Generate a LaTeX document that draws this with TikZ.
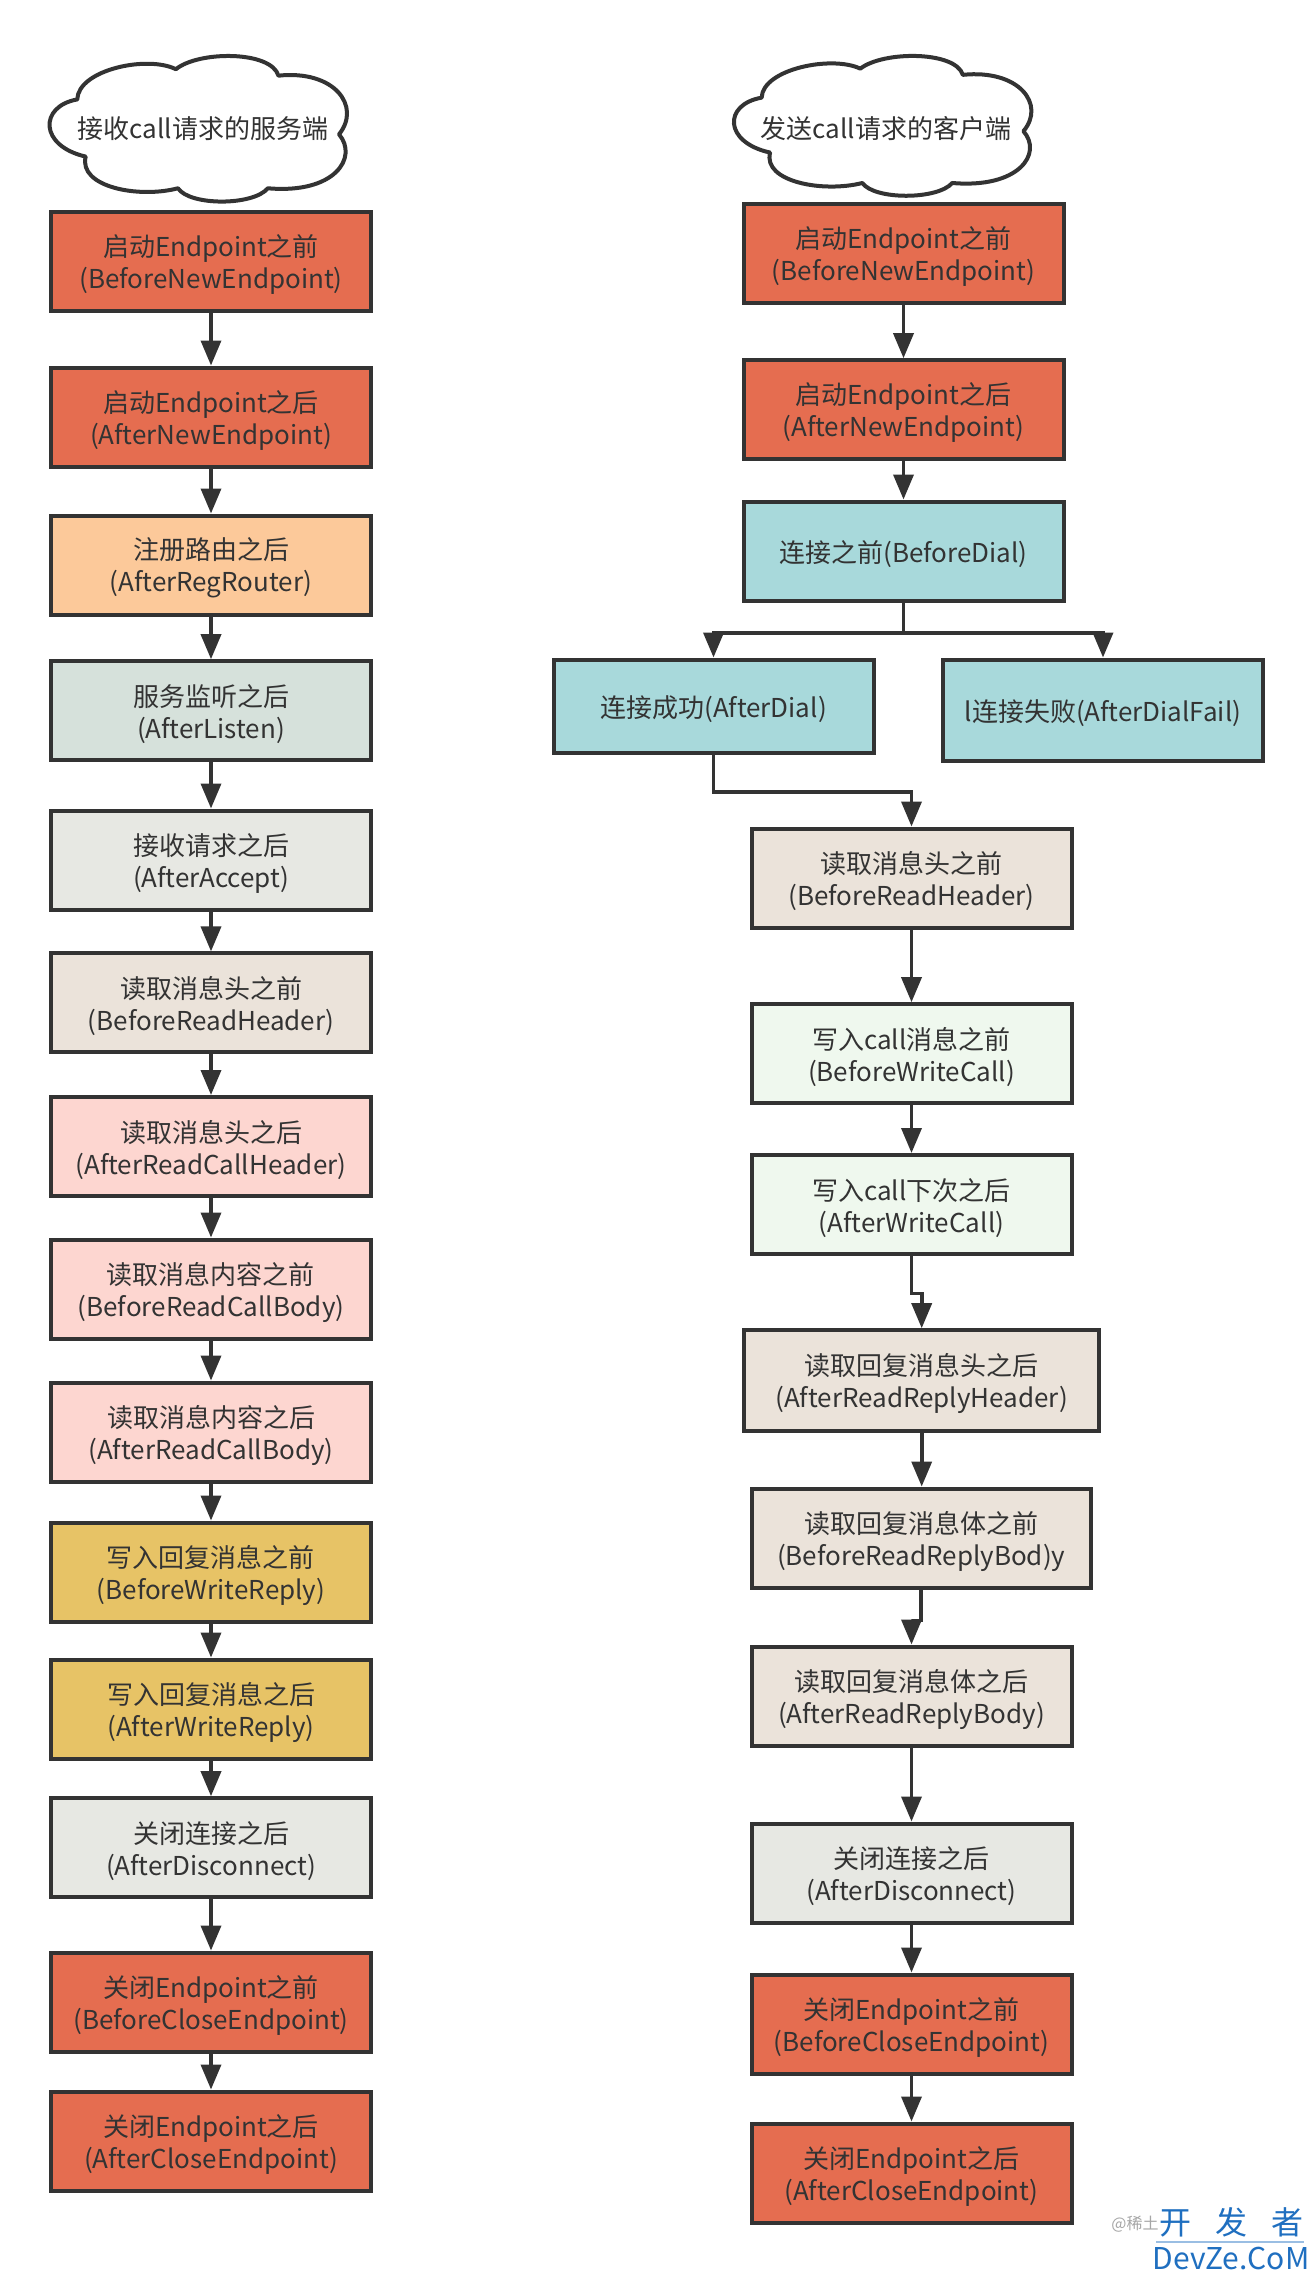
\documentclass[tikz,border=0pt]{standalone}
\usepackage{fontspec}
\setmainfont{Noto Sans CJK SC}
\usetikzlibrary{arrows.meta}
\definecolor{ink}{HTML}{333333}
\definecolor{cRed}{HTML}{E56D50}
\definecolor{cOrange}{HTML}{FCC99A}
\definecolor{cSage}{HTML}{D6E1DB}
\definecolor{cGray}{HTML}{E7E8E3}
\definecolor{cBeige}{HTML}{EBE3DA}
\definecolor{cPink}{HTML}{FDD6D0}
\definecolor{cGold}{HTML}{E7C366}
\definecolor{cTeal}{HTML}{A8D9DB}
\definecolor{cMint}{HTML}{EFF8EE}
\definecolor{wmBlue}{HTML}{1F6FC0}
\newcommand\mycloud[4]{%
  \begin{scope}[shift={(#1,#2)},xscale=#3,yscale=#4]
    \draw[cloudline] (0.097,0.303)
      .. controls (0.10,0.10) and (0.33,0.00) .. (0.424,0.097)
      .. controls (0.50,-0.03) and (0.74,-0.03) .. (0.764,0.141)
      .. controls (0.95,0.10) and (1.04,0.35) .. (0.965,0.541)
      .. controls (1.03,0.70) and (0.95,0.95) .. (0.729,0.909)
      .. controls (0.68,1.03) and (0.47,1.03) .. (0.431,0.909)
      .. controls (0.30,0.98) and (0.10,0.90) .. (0.125,0.693)
      .. controls (-0.03,0.62) and (-0.03,0.35) .. (0.097,0.303) -- cycle;
  \end{scope}}
\newcommand\tl[2]{\rule{0pt}{14.1pt}#1\\#2}
\begin{document}
\begin{tikzpicture}[x=0.5pt,y=-0.5pt,
  every node/.style={text=ink,font=\fontsize{13pt}{16pt}\selectfont},
  box/.style={draw=ink,line width=2pt,rectangle,minimum width=160pt,minimum height=49.5pt,inner sep=0pt,align=center},
  onel/.style={execute at begin node={\rule{0pt}{14.2pt}}},
  flow/.style={draw=ink,line width=1.8pt,-{Triangle[length=12.5pt,width=10pt]}},
  cloudline/.style={draw=ink,line width=2pt,fill=white,line join=round}
]
\fill[white] (0,0) rectangle (1314,2275);
\useasboundingbox (0,0) rectangle (1314,2275);

% clouds
\mycloud{48}{55}{301.6}{146.6}
\node (c1) at (203,128.5) {接收call请求的服务端};
\mycloud{732.4}{55}{301.6}{140.8}
\node (c2) at (886,128.5) {发送call请求的客户端};

% left column
\node[box,fill=cRed]    (L1)  at (211,261)    {\tl{启动Endpoint之前}{(BeforeNewEndpoint)}};
\node[box,fill=cRed]    (L2)  at (211,417)    {\tl{启动Endpoint之后}{(AfterNewEndpoint)}};
\node[box,fill=cOrange] (L3)  at (211,565)    {\tl{注册路由之后}{(AfterRegRouter)}};
\node[box,fill=cSage]   (L4)  at (211,710.7)  {\tl{服务监听之后}{(AfterListen)}};
\node[box,fill=cGray]   (L5)  at (211,860)    {\tl{接收请求之后}{(AfterAccept)}};
\node[box,fill=cBeige]  (L6)  at (211,1002.9) {\tl{读取消息头之前}{(BeforeReadHeader)}};
\node[box,fill=cPink]   (L7)  at (211,1146.5) {\tl{读取消息头之后}{(AfterReadCallHeader)}};
\node[box,fill=cPink]   (L8)  at (211,1289)   {\tl{读取消息内容之前}{(BeforeReadCallBody)}};
\node[box,fill=cPink]   (L9)  at (211,1432)   {\tl{读取消息内容之后}{(AfterReadCallBody)}};
\node[box,fill=cGold]   (L10) at (211,1572)   {\tl{写入回复消息之前}{(BeforeWriteReply)}};
\node[box,fill=cGold]   (L11) at (211,1709)   {\tl{写入回复消息之后}{(AfterWriteReply)}};
\node[box,fill=cGray]   (L12) at (211,1847.7) {\tl{关闭连接之后}{(AfterDisconnect)}};
\node[box,fill=cRed]    (L13) at (211,2002)   {\tl{关闭Endpoint之前}{(BeforeCloseEndpoint)}};
\node[box,fill=cRed]    (L14) at (211,2141)   {\tl{关闭Endpoint之后}{(AfterCloseEndpoint)}};

\foreach \a/\b in {L1/L2,L2/L3,L3/L4,L4/L5,L5/L6,L6/L7,L7/L8,L8/L9,L9/L10,L10/L11,L11/L12,L12/L13,L13/L14}
  \draw[flow] (\a.south) -- (\b.north);

% right column
\node[box,fill=cRed]   (R1)  at (903.5,253)   {\tl{启动Endpoint之前}{(BeforeNewEndpoint)}};
\node[box,fill=cRed]   (R2)  at (903.5,409.7) {\tl{启动Endpoint之后}{(AfterNewEndpoint)}};
\node[box,onel,fill=cTeal]  (R3)  at (903.5,551)   {连接之前(BeforeDial)};
\node[box,onel,fill=cTeal,minimum height=46.5pt] (R4) at (713.5,706) {连接成功(AfterDial)};
\node[box,onel,fill=cTeal,minimum height=50.5pt] (R5) at (1103,710) {l连接失败(AfterDialFail)};
\node[box,fill=cBeige] (R6)  at (911.5,878)    {\tl{读取消息头之前}{(BeforeReadHeader)}};
\node[box,fill=cMint]  (R7)  at (911.5,1053.7) {\tl{写入call消息之前}{(BeforeWriteCall)}};
\node[box,fill=cMint]  (R8)  at (911.5,1204.5) {\tl{写入call下次之后}{(AfterWriteCall)}};
\node[box,fill=cBeige,minimum width=177.5pt,minimum height=50.5pt] (R9) at (921.7,1380.7) {\tl{读取回复消息头之后}{(AfterReadReplyHeader)}};
\node[box,fill=cBeige,minimum width=169.7pt] (R10) at (921.2,1538) {\tl{读取回复消息体之前}{(BeforeReadReplyBod)y}};
\node[box,fill=cBeige] (R11) at (911.5,1696) {\tl{读取回复消息体之后}{(AfterReadReplyBody)}};
\node[box,fill=cGray]  (R12) at (911.5,1873) {\tl{关闭连接之后}{(AfterDisconnect)}};
\node[box,fill=cRed]   (R13) at (911.5,2024) {\tl{关闭Endpoint之前}{(BeforeCloseEndpoint)}};
\node[box,fill=cRed]   (R14) at (911.5,2173) {\tl{关闭Endpoint之后}{(AfterCloseEndpoint)}};

\draw[flow] (R1.south) -- (R2.north);
\draw[flow] (R2.south) -- (R3.north);
\draw[flow] (R3.south) -- ++(0,30.5) -| (R4.north);
\draw[flow] (R3.south) -- ++(0,30.5) -| (R5.north);
\draw[flow] (R4.south) -- ++(0,37.7) -| (R6.north);
\draw[flow] (R6.south) -- (R7.north);
\draw[flow] (R7.south) -- (R8.north);
\draw[flow] (R8.south) -- ++(0,37.5) -| (R9.north);
\draw[flow] (R9.south) -- (R9.south |- R10.north);
\draw[flow] (R10.south) -- ++(0,31) -| (R11.north);
\draw[flow] (R11.south) -- (R12.north);
\draw[flow] (R12.south) -- (R13.north);
\draw[flow] (R13.south) -- (R14.north);

% watermark
\node[font=\fontsize{8pt}{8pt}\selectfont,text=black!35] (wm1) at (1135,2224) {@稀土};
\node[font=\fontsize{16pt}{16pt}\selectfont,text=wmBlue] (wm2) at (1231,2222) {开\hspace{0.75em}发\hspace{0.75em}者};
\draw[wmBlue!45,line width=0.8pt] (1156,2242) -- (1304,2242);
\node[font=\fontsize{15pt}{15pt}\selectfont,text=wmBlue] (wm3) at (1231,2258) {DevZe.CoM};
\end{tikzpicture}
\end{document}
